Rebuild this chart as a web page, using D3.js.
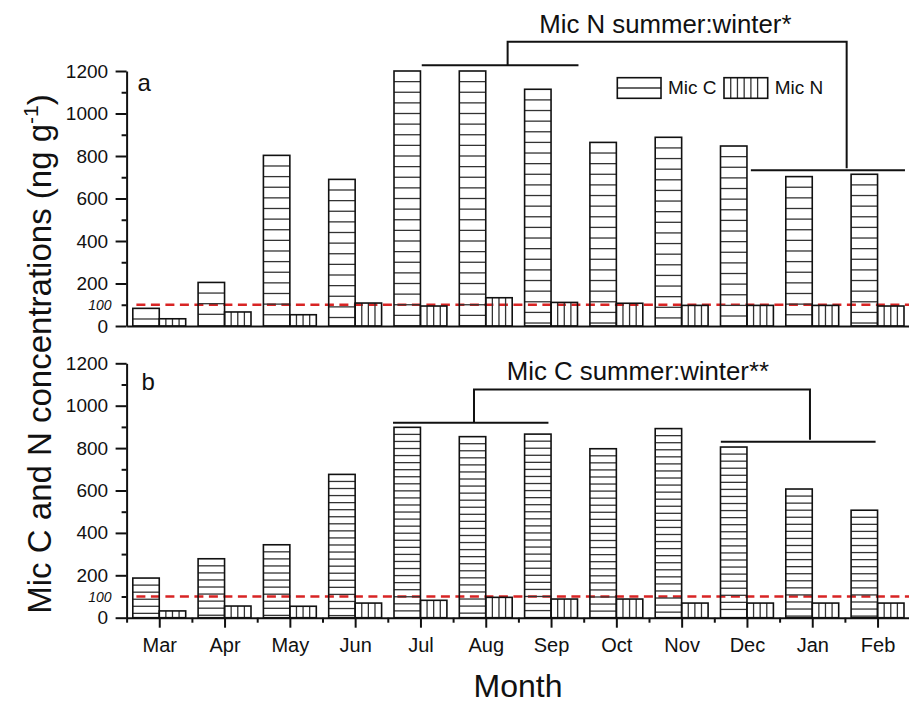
<!DOCTYPE html>
<html>
<head>
<meta charset="utf-8">
<script src="https://cdn.jsdelivr.net/npm/d3@7"></script>
<style>
  body { margin: 0; background: #fff; }
  text { font-family: "Liberation Sans", Arial, sans-serif; fill: #111; }
</style>
</head>
<body>
<svg width="909" height="702"></svg>
<script>
const svg = d3.select("svg")

// months, Mar -> Feb
const months = ["Mar", "Apr", "May", "Jun", "Jul", "Aug", "Sep", "Oct", "Nov", "Dec", "Jan", "Feb"]

// panel a
const micC_a = [83, 205, 803, 690, 1200, 1200, 1114, 864, 888, 847, 703, 714]
const micN_a = [34, 66, 53, 108, 94, 133, 111, 107, 97, 97, 97, 94]

// panel b
const micC_b = [187, 278, 344, 676, 898, 854, 866, 797, 892, 805, 607, 507]
const micN_b = [32, 55, 54, 69, 82, 96, 88, 88, 69, 69, 69, 69]

const yMajor = [0, 200, 400, 600, 800, 1000, 1200]
const yMinor = [100, 300, 500, 700, 900, 1100]
const refLine = 100

const x = d3.scaleLinear().domain([-0.5, 11.5]).range([126.6, 910.2])
const bw = 0.405  // bar width in month units
const font = "'Liberation Sans', Arial, sans-serif"

const panels = [
  {
    label: "a", labelY: 1106,
    C: micC_a, N: micN_a,
    y: d3.scaleLinear().domain([0, 1200]).range([326, 71]),
    stripe: 50,
    monthTicks: false,
    note: "Mic N summer:winter*",
    // summer line, winter line, joining bar (month index / value)
    summer: [4.02, 6.42, 1227], winter: [9.06, 11.42, 733],
    join: [5.335, 10.527, 1338], noteY: 1377, noteX: 7.75,
    legend: true
  },
  {
    label: "b", labelY: 1074,
    C: micC_b, N: micN_b,
    y: d3.scaleLinear().domain([0, 1200]).range([617.7, 363.3]),
    stripe: 33.3,
    monthTicks: true,
    note: "Mic C summer:winter**",
    summer: [3.58, 5.96, 920], winter: [8.6, 10.97, 830],
    join: [4.82, 9.965, 1077], noteY: 1121, noteX: 7.33,
    legend: false
  }
]

panels.forEach(p => {
  const y = p.y
  const g = svg.append("g")

  // red reference line at 100
  g.append("line")
    .attr("x1", x(-0.35)).attr("x2", 909)
    .attr("y1", y(refLine)).attr("y2", y(refLine))
    .attr("stroke", "#d82424").attr("stroke-width", 2.3)
    .attr("stroke-dasharray", "9,5.5")

  // Mic C bars
  const cBars = g.selectAll(".c").data(p.C).join("g").attr("class", "c")
  cBars.each(function (d, i) {
    const sel = d3.select(this)
    const x0 = x(i - bw), x1 = x(i)
    const top = y(d), base = y(0)
    const gap = y(0) - y(p.stripe)
    sel.selectAll("line")
      .data(d3.range(top + gap, base - 1.5, gap))
      .join("line")
      .attr("x1", x0).attr("x2", x1)
      .attr("y1", v => v).attr("y2", v => v)
      .attr("stroke", "#333").attr("stroke-width", 1.3)
    sel.append("rect")
      .attr("x", x0).attr("y", top)
      .attr("width", x1 - x0).attr("height", base - top)
      .attr("fill", "none").attr("stroke", "#111").attr("stroke-width", 1.6)
  })

  // Mic N bars
  const nBars = g.selectAll(".n").data(p.N).join("g").attr("class", "n")
  nBars.each(function (d, i) {
    const sel = d3.select(this)
    const x0 = x(i), x1 = x(i + bw)
    const top = y(d), base = y(0)
    sel.selectAll("line")
      .data([1, 2, 3])
      .join("line")
      .attr("x1", k => x0 + (x1 - x0) * k / 4).attr("x2", k => x0 + (x1 - x0) * k / 4)
      .attr("y1", top).attr("y2", base)
      .attr("stroke", "#333").attr("stroke-width", 1.3)
    sel.append("rect")
      .attr("x", x0).attr("y", top)
      .attr("width", x1 - x0).attr("height", base - top)
      .attr("fill", "none").attr("stroke", "#111").attr("stroke-width", 1.6)
  })

  // y axis
  const yAxis = g.append("g")
    .attr("transform", `translate(${x(-0.5)},0)`)
    .call(d3.axisLeft(y).tickValues(yMajor).tickFormat(d3.format("d"))
      .tickSize(11).tickSizeOuter(0).tickPadding(7.5))
  yAxis.selectAll("text").attr("font-size", 19).attr("fill", "#111")
    .style("font-family", font)
  g.append("g")
    .attr("transform", `translate(${x(-0.5)},0)`)
    .call(d3.axisLeft(y).tickValues(yMinor).tickSize(5).tickFormat(""))
    .select(".domain").remove()
  g.append("text")
    .attr("x", x(-0.5) - 15).attr("y", y(refLine)).attr("dy", "0.36em")
    .attr("text-anchor", "end").attr("font-size", 14).attr("font-style", "italic")
    .text(refLine)

  // x axis
  const xAxis = g.append("g")
    .attr("transform", `translate(0,${y(0)})`)
  if (p.monthTicks) {
    xAxis.call(d3.axisBottom(x).tickValues(d3.range(months.length))
      .tickFormat(i => months[i]).tickSize(10).tickSizeOuter(0).tickPadding(10))
    xAxis.selectAll("text").attr("font-size", 20).attr("fill", "#111")
      .style("font-family", font)
    g.append("g")
      .attr("transform", `translate(0,${y(0)})`)
      .call(d3.axisBottom(x).tickValues(d3.range(months.length).map(i => i - 0.5))
        .tickSize(5).tickFormat(""))
      .select(".domain").remove()
  } else {
    xAxis.call(d3.axisBottom(x).tickValues([]).tickSizeOuter(0))
  }
  g.selectAll(".domain, .tick line").attr("stroke", "#111").attr("stroke-width", 2)

  // panel letter
  g.append("text")
    .attr("x", x(-0.5) + (p.label === "a" ? 11 : 15)).attr("y", y(p.labelY))
    .attr("font-size", 24).text(p.label)

  // summer:winter bracket
  const br = g.append("g").attr("fill", "none").attr("stroke", "#111").attr("stroke-width", 2)
  br.append("line").attr("x1", x(p.summer[0])).attr("x2", x(p.summer[1]))
    .attr("y1", y(p.summer[2])).attr("y2", y(p.summer[2]))
  br.append("line").attr("x1", x(p.winter[0])).attr("x2", x(p.winter[1]))
    .attr("y1", y(p.winter[2])).attr("y2", y(p.winter[2]))
  br.append("path").attr("d", d3.line()([
    [x(p.join[0]), y(p.summer[2])],
    [x(p.join[0]), y(p.join[2])],
    [x(p.join[1]), y(p.join[2])],
    [x(p.join[1]), y(p.winter[2]) - 2]
  ]))
  g.append("text")
    .attr("x", x(p.noteX)).attr("y", y(p.noteY))
    .attr("text-anchor", "middle").attr("font-size", 25.8)
    .text(p.note)

  // legend
  if (p.legend) {
    const ly0 = 77.7, lh = 20.6, lw = 43.7
    const items = [
      { name: "Mic C", x0: 617.3, kind: "C" },
      { name: "Mic N", x0: 724, kind: "N" }
    ]
    items.forEach(it => {
      if (it.kind === "C") {
        g.append("line").attr("x1", it.x0).attr("x2", it.x0 + lw)
          .attr("y1", ly0 + lh / 2).attr("y2", ly0 + lh / 2)
          .attr("stroke", "#333").attr("stroke-width", 1.3)
      } else {
        g.selectAll(null).data(d3.range(1, 6)).join("line")
          .attr("x1", k => it.x0 + lw * k / 6.5).attr("x2", k => it.x0 + lw * k / 6.5)
          .attr("y1", ly0).attr("y2", ly0 + lh)
          .attr("stroke", "#333").attr("stroke-width", 1.3)
      }
      g.append("rect").attr("x", it.x0).attr("y", ly0).attr("width", lw).attr("height", lh)
        .attr("fill", "none").attr("stroke", "#111").attr("stroke-width", 1.6)
      g.append("text").attr("x", it.x0 + lw + 7).attr("y", ly0 + lh - 4)
        .attr("font-size", 19).text(it.name)
    })
  }
})

// axis titles
const yTitle = svg.append("text")
  .attr("transform", "translate(51,354) rotate(-90)")
  .attr("text-anchor", "middle").attr("font-size", 33)
yTitle.append("tspan").text("Mic C and N concentrations (ng g")
yTitle.append("tspan").attr("font-size", 21).attr("dy", -13).text("-1")
yTitle.append("tspan").attr("dy", 13).text(")")

svg.append("text")
  .attr("x", 518).attr("y", 696.5)
  .attr("text-anchor", "middle").attr("font-size", 32)
  .text("Month")
</script>
</body>
</html>
